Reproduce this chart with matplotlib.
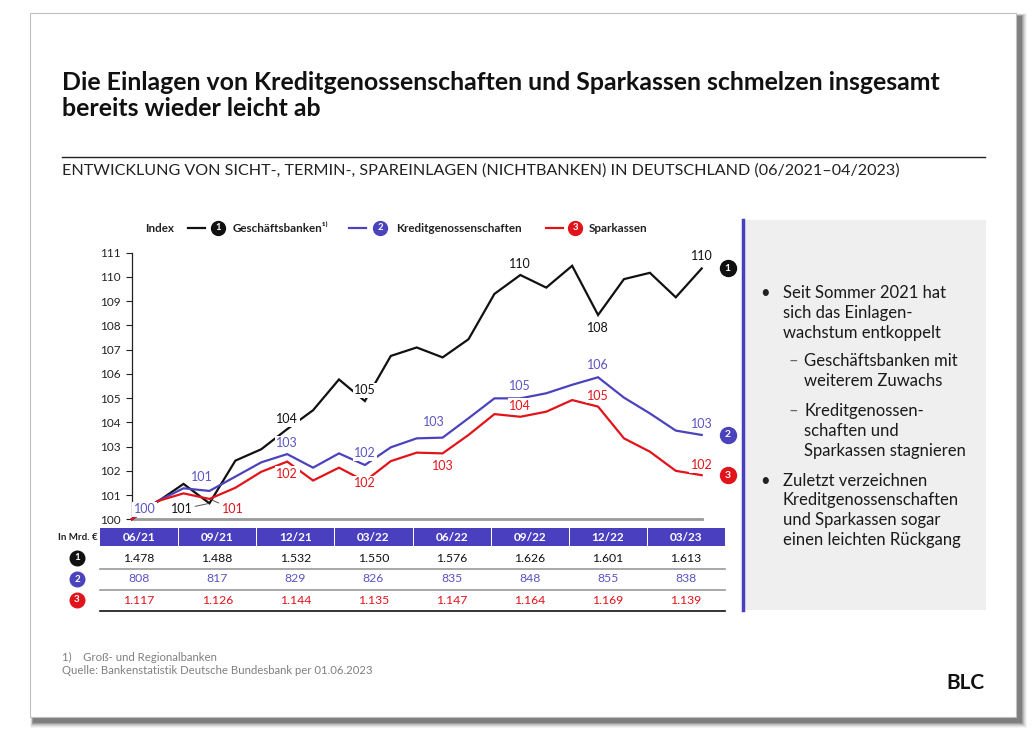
import matplotlib
matplotlib.use('Agg')
import matplotlib.pyplot as plt
from matplotlib.patches import Rectangle
import matplotlib.transforms as mtransforms

W, H = 1036, 742
plt.rcParams['font.family'] = ['Lato', 'DejaVu Sans']

# ---------------- data ----------------
months = ['06/21', '07/21', '08/21', '09/21', '10/21', '11/21', '12/21', '01/22',
          '02/22', '03/22', '04/22', '05/22', '06/22', '07/22', '08/22', '09/22',
          '10/22', '11/22', '12/22', '01/23', '02/23', '03/23', '04/23']
idx_gb = [100.0, 100.73, 101.46, 100.66, 102.42, 102.89, 103.72, 104.5, 105.77, 104.88,
          106.74, 107.09, 106.68, 107.43, 109.3, 110.08, 109.56, 110.46, 108.43, 109.91,
          110.17, 109.16, 110.35]
idx_kg = [100.0, 100.75, 101.28, 101.17, 101.76, 102.35, 102.69, 102.13, 102.72, 102.24,
          102.97, 103.34, 103.37, 104.17, 104.99, 104.99, 105.2, 105.55, 105.86, 105.02,
          104.37, 103.66, 103.48]
idx_sk = [100.0, 100.75, 101.07, 100.84, 101.3, 101.96, 102.38, 101.6, 102.13, 101.57,
          102.4, 102.75, 102.72, 103.48, 104.34, 104.23, 104.44, 104.92, 104.65, 103.34,
          102.79, 102.0, 101.82]

table_cols = ['06/21', '09/21', '12/21', '03/22', '06/22', '09/22', '12/22', '03/23']
table_gb = ['1.478', '1.488', '1.532', '1.550', '1.576', '1.626', '1.601', '1.613']
table_kg = ['808', '817', '829', '826', '835', '848', '855', '838']
table_sk = ['1.117', '1.126', '1.144', '1.135', '1.147', '1.164', '1.169', '1.139']

series_names = ['Geschäftsbanken¹⁾', 'Kreditgenossenschaften', 'Sparkassen']

# label indices with pixel offsets (dx, dy) and whether a leader line is drawn
lab_gb = [(3, -28, -6, True), (6, 0, 10, False), (9, 0, 11, False), (15, 0, 11, False),
          (18, 0, -13, False), (22, 0, 12, False)]
lab_kg = [(0, 13, 10, False), (3, -8, 14, False), (6, 0, 11, False), (9, 0, 12, False),
          (12, -9, 16, False), (15, 0, 12, False), (18, 0, 12, False), (22, 0, 11, False)]
lab_sk = [(3, 23, -10, True), (6, 0, -12, False), (9, 0, -2, False), (12, 0, -13, False),
          (15, 0, 11, False), (18, 0, 11, False), (22, 0, 10, False)]

BLACK = '#111111'
BLUE = '#4B43BC'
BLUE_T = '#5B54C2'
RED = '#E2141B'
PURPLE = '#4A3FBF'

fig = plt.figure(figsize=(W / 100, H / 100), dpi=100)
fig.patch.set_facecolor('white')

bg = fig.add_axes([0, 0, 1, 1], zorder=0)
bg.set_xlim(0, W)
bg.set_ylim(H, 0)
bg.axis('off')

# card with shadow
for k, a in enumerate([0.04, 0.06, 0.08, 0.11, 0.15, 0.2]):
    s = 10 - k * 1.7
    bg.add_patch(Rectangle((30 - s * 0.3 + 3, 13 - s * 0.3 + 3), 986 + s * 0.9 + 2, 704 + s * 0.9 + 2,
                           fc='#000000', ec='none', alpha=a))
bg.add_patch(Rectangle((30, 13), 986, 704, fc='white', ec='#c0c0c0', lw=0.8))

# title & subtitle
bg.text(62, 82, 'Die Einlagen von Kreditgenossenschaften und Sparkassen schmelzen insgesamt',
        fontsize=17.9, fontweight='bold', color='#111111', va='center', ha='left')
bg.text(62, 109, 'bereits wieder leicht ab', fontsize=17.9, fontweight='bold', color='#111111',
        va='center', ha='left')
bg.plot([62, 985], [157, 157], color='#222222', lw=1)
bg.text(62, 171, 'ENTWICKLUNG VON SICHT-, TERMIN-, SPAREINLAGEN (NICHTBANKEN) IN DEUTSCHLAND (06/2021–04/2023)',
        fontsize=11.6, color='#222222', va='center', ha='left')


def badge(axx, x, y, num, color, ms=11, fs=7, transform=None):
    kw = {} if transform is None else {'transform': transform}
    axx.plot([x], [y], 'o', ms=ms, color=color, mec=color, clip_on=False, zorder=6, **kw)
    axx.text(x, y, str(num), ha='center', va='center', color='white', fontsize=fs,
             fontweight='bold', zorder=7, clip_on=False, **kw)


# legend
ly = 228
bg.text(145, ly, 'Index', fontsize=8.4, fontweight='bold', color='#222222', va='center', ha='left')
colors = [BLACK, BLUE, RED]
leg_x = [(188, 218, 233), (349, 380, 396), (546, 575, 589)]
for (lx, bx, tx), c, n, name in zip(leg_x, colors, [1, 2, 3], series_names):
    bg.plot([lx, lx + 17], [ly, ly], color=c, lw=1.6)
    badge(bg, bx, ly, n, c, ms=10, fs=6.8)
    bg.text(tx, ly, name, fontsize=8.4, fontweight='bold', color='#222222', va='center', ha='left')

# right info box
bg.add_patch(Rectangle((742, 220), 244, 390, fc='#EFEFEF', ec='none'))
bg.plot([743, 743], [220, 610], color=PURPLE, lw=2.5)
box_lines = [
    (760, 783, 293, '•', 'Seit Sommer 2021 hat'),
    (None, 783, 313, None, 'sich das Einlagen-'),
    (None, 783, 333, None, 'wachstum entkoppelt'),
    (788, 804, 361, '–', 'Geschäftsbanken mit'),
    (None, 804, 381, None, 'weiterem Zuwachs'),
    (788, 804, 411, '–', 'Kreditgenossen-'),
    (None, 804, 431, None, 'schaften und'),
    (None, 804, 451, None, 'Sparkassen stagnieren'),
    (760, 783, 481, '•', 'Zuletzt verzeichnen'),
    (None, 783, 500, None, 'Kreditgenossenschaften'),
    (None, 783, 520, None, 'und Sparkassen sogar'),
    (None, 783, 540, None, 'einen leichten Rückgang'),
]
for bx, tx, y, sym, txt in box_lines:
    if sym:
        bg.text(bx, y, sym, fontsize=12, color='#222222' if sym == '•' else '#666666',
                va='center', ha='left')
    bg.text(tx, y, txt, fontsize=12, color='#1a1a1a', va='center', ha='left')

# table
tx0, tx1 = 100, 725
ncol = len(table_cols)
cw = (tx1 - tx0) / ncol
for j, lab in enumerate(table_cols):
    bg.add_patch(Rectangle((tx0 + j * cw + (1 if j else 0), 528), cw - (1 if j else 0), 18,
                           fc=PURPLE, ec='none'))
    bg.text(tx0 + (j + 0.5) * cw, 537.5, lab, fontsize=8.5, fontweight='bold', color='white',
            ha='center', va='center')
bg.text(98, 537.5, 'In Mrd. €', fontsize=7, fontweight='bold', color='#222222', ha='right', va='center')
rows = [(table_gb, BLACK, 558, 1), (table_kg, BLUE_T, 579, 2), (table_sk, RED, 600, 3)]
for vals, c, y, n in rows:
    badge(bg, 77, y, n, BLACK if n == 1 else (BLUE if n == 2 else RED), ms=10.5, fs=7)
    for j, v in enumerate(vals):
        bg.text(tx0 + (j + 0.5) * cw, y, v, fontsize=8.8, color=c, ha='center', va='center')
bg.plot([tx0, tx1], [569, 569], color='#999999', lw=1.2)
bg.plot([tx0, tx1], [589.5, 589.5], color='#999999', lw=1.2)
bg.plot([tx0, tx1], [610.5, 610.5], color='#111111', lw=1.2)

# footer
bg.text(62, 657, '1)    Groß- und Regionalbanken', fontsize=8.2, color='#808080', ha='left', va='center')
bg.text(62, 671, 'Quelle: Bankenstatistik Deutsche Bundesbank per 01.06.2023', fontsize=8.2,
        color='#808080', ha='left', va='center')
bg.text(985, 683, 'BLC', fontsize=15, fontweight='bold', color='#111111', ha='right', va='center')

# ---------------- chart ----------------
x0p, x1p, y0p, y1p = 131.7, 701.7, 519.3, 252.7
ax = fig.add_axes([x0p / W, 1 - y0p / H, (x1p - x0p) / W, (y0p - y1p) / H], zorder=2)
ax.patch.set_alpha(0)
ax.set_xlim(0, len(months) - 1)
ax.set_ylim(100, 111)
xs = list(range(len(months)))
for vals, c in [(idx_gb, BLACK), (idx_kg, BLUE), (idx_sk, RED)]:
    ax.plot(xs, vals, color=c, lw=1.6, clip_on=False, zorder=3, solid_joinstyle='miter')

ax.spines['top'].set_visible(False)
ax.spines['right'].set_visible(False)
ax.spines['left'].set_color('#222222')
ax.spines['left'].set_linewidth(0.9)
ax.spines['bottom'].set_color('#9a9a9a')
ax.spines['bottom'].set_linewidth(2)
ax.set_xticks([])
ax.set_yticks(range(100, 112))
ax.tick_params(axis='y', length=4, width=0.8, pad=4, labelsize=8.5, colors='#222222')

for vals, labs, c in [(idx_gb, lab_gb, BLACK), (idx_kg, lab_kg, BLUE_T), (idx_sk, lab_sk, RED)]:
    for i, dx, dy, lead in labs:
        kw = {}
        if lead:
            kw['arrowprops'] = dict(arrowstyle='-', color='#555555', lw=0.7, shrinkA=1, shrinkB=1)
        ax.annotate(f'{round(vals[i])}', (i, vals[i]), xytext=(dx, dy), textcoords='offset pixels',
                    ha='center', va='center', fontsize=9, color=c, zorder=5, annotation_clip=False,
                    bbox=dict(boxstyle='square,pad=0.12', fc='white', ec='none'), **kw)

end_tr = mtransforms.offset_copy(ax.transData, fig=fig, x=26, y=0, units='dots')
for vals, c, n in [(idx_gb, BLACK, 1), (idx_kg, BLUE, 2), (idx_sk, RED, 3)]:
    badge(ax, xs[-1], vals[-1], n, c, ms=11.5, fs=7.5, transform=end_tr)

fig.savefig('out.png', dpi=100, facecolor='white')
